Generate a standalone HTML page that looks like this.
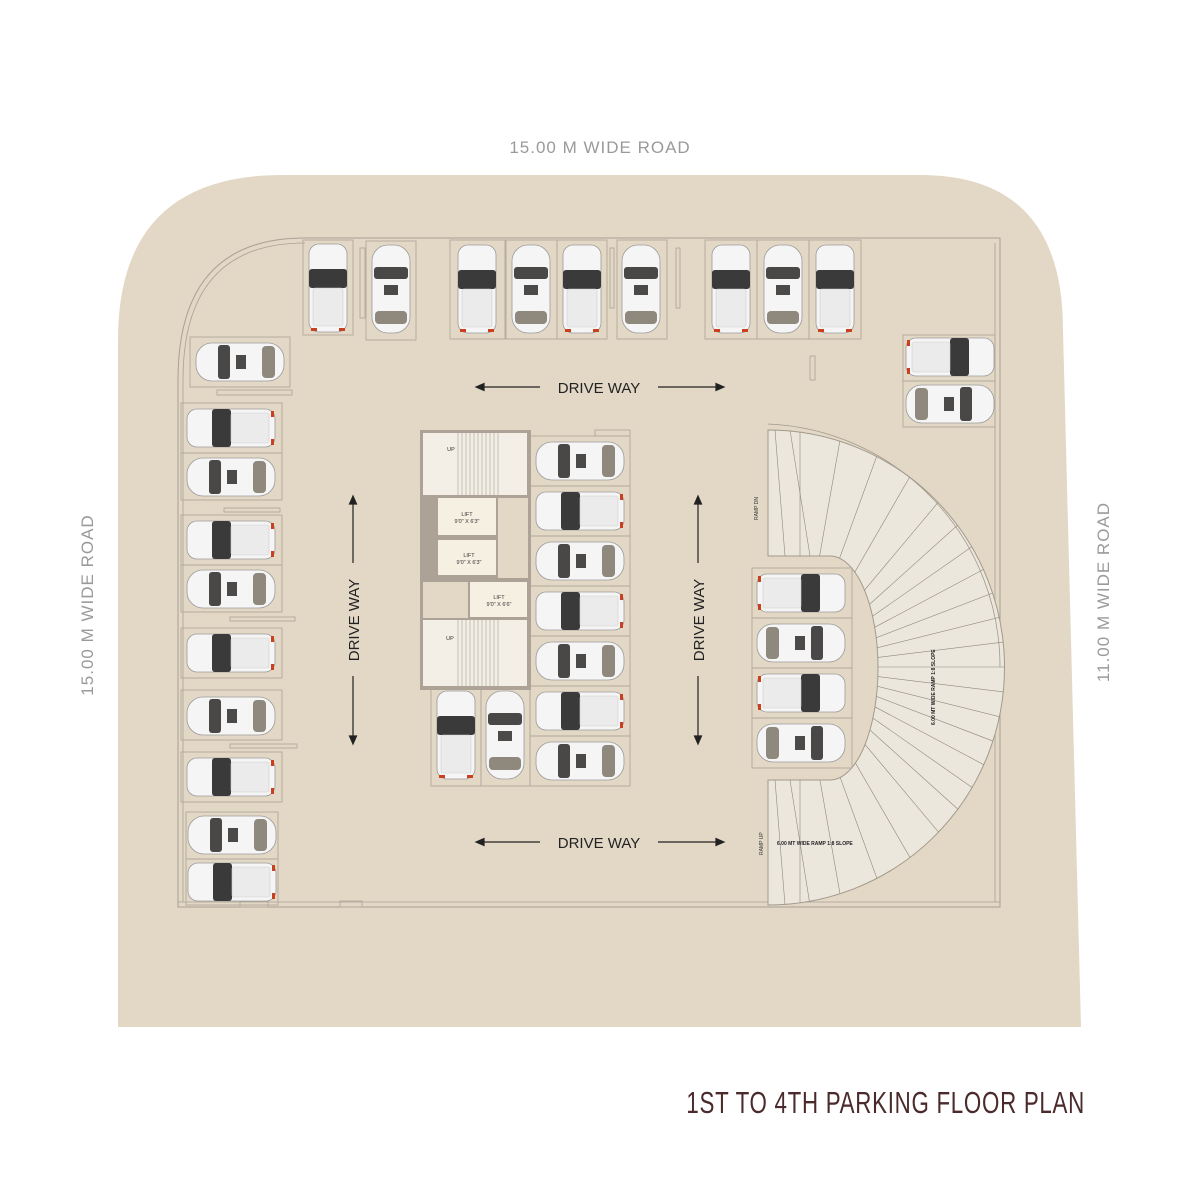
<!DOCTYPE html>
<html><head><meta charset="utf-8"><style>
html,body{margin:0;padding:0;background:#fff;}
svg{display:block}
</style></head><body>
<svg width="1201" height="1201" viewBox="0 0 1201 1201" xmlns="http://www.w3.org/2000/svg" font-family="Liberation Sans, sans-serif">
<defs>
<g id="suv">
<rect x="-44" y="-19" width="88" height="38" rx="10" fill="#f5f5f5" stroke="#9a9a9a" stroke-width="0.8"/>
<rect x="-19" y="-19" width="19" height="38" rx="3" fill="#3b3a3a"/>
<rect x="0" y="-15" width="38" height="30" rx="2" fill="#ebebeb" stroke="#cfcfcf" stroke-width="0.6"/>
<rect x="40" y="-17" width="3" height="6" fill="#c9401f"/>
<rect x="40" y="11" width="3" height="6" fill="#c9401f"/>
</g>
<g id="sed">
<rect x="-44" y="-19" width="88" height="38" rx="16" fill="#f5f5f5" stroke="#9a9a9a" stroke-width="0.8"/>
<rect x="-22" y="-17" width="12" height="34" rx="3" fill="#4a4846"/>
<rect x="-4" y="-7" width="10" height="14" fill="#4b4a48"/>
<rect x="22" y="-16" width="13" height="32" rx="4" fill="#8e887d"/>
</g>
<clipPath id="rampclip"><path d="M768,430 A236,237 0 0 1 768,905 L768,780 L830,780 A48,112 0 0 0 830,556 L768,556 Z"/></clipPath>
</defs>

<!-- site -->
<path d="M118,1027 L118,340 Q118,175 283,175 L920,175 Q1063,175 1063,330 L1081,1027 Z" fill="#e3d8c6"/>
<!-- building outline -->
<path d="M178,907 L178,380 Q178,238 305,238 L1000,238 L1000,907 Z" fill="none" stroke="#a9a195" stroke-width="1"/>
<path d="M183,902 L183,380 Q183,243 305,243" fill="none" stroke="#a9a195" stroke-width="0.8"/>
<line x1="178" y1="902" x2="1000" y2="902" stroke="#a9a195" stroke-width="0.8"/>
<line x1="995" y1="243" x2="995" y2="902" stroke="#a9a195" stroke-width="0.8"/>

<!-- ramp -->
<path d="M768,430 A236,237 0 0 1 768,905 L768,780 L830,780 A48,112 0 0 0 830,556 L768,556 Z" fill="#ebe7dd" stroke="#a39a8c" stroke-width="1"/>
<path d="M768,424 A242,243 0 0 1 1000,667" fill="none" stroke="#a39a8c" stroke-width="0.8"/>
<g clip-path="url(#rampclip)" stroke="#8f887c" stroke-width="0.6">
<path d="M800,420 A200,200 0 0 1 800,914" fill="none" transform="translate(0,0)"/>
<g transform="translate(800,667)">
<line x1="0" y1="0" x2="260" y2="0" transform="rotate(-90)"/>
<line x1="0" y1="0" x2="260" y2="0" transform="rotate(-80)"/>
<line x1="0" y1="0" x2="260" y2="0" transform="rotate(-70)"/>
<line x1="0" y1="0" x2="260" y2="0" transform="rotate(-60)"/>
<line x1="0" y1="0" x2="260" y2="0" transform="rotate(-50)"/>
<line x1="0" y1="0" x2="260" y2="0" transform="rotate(-42)"/>
<line x1="0" y1="0" x2="260" y2="0" transform="rotate(-35)"/>
<line x1="0" y1="0" x2="260" y2="0" transform="rotate(-28)"/>
<line x1="0" y1="0" x2="260" y2="0" transform="rotate(-21)"/>
<line x1="0" y1="0" x2="260" y2="0" transform="rotate(-14)"/>
<line x1="0" y1="0" x2="260" y2="0" transform="rotate(-7)"/>
<line x1="0" y1="0" x2="260" y2="0" transform="rotate(0)"/>
<line x1="0" y1="0" x2="260" y2="0" transform="rotate(7)"/>
<line x1="0" y1="0" x2="260" y2="0" transform="rotate(14)"/>
<line x1="0" y1="0" x2="260" y2="0" transform="rotate(21)"/>
<line x1="0" y1="0" x2="260" y2="0" transform="rotate(28)"/>
<line x1="0" y1="0" x2="260" y2="0" transform="rotate(35)"/>
<line x1="0" y1="0" x2="260" y2="0" transform="rotate(42)"/>
<line x1="0" y1="0" x2="260" y2="0" transform="rotate(50)"/>
<line x1="0" y1="0" x2="260" y2="0" transform="rotate(60)"/>
<line x1="0" y1="0" x2="260" y2="0" transform="rotate(70)"/>
<line x1="0" y1="0" x2="260" y2="0" transform="rotate(80)"/>
<line x1="0" y1="0" x2="260" y2="0" transform="rotate(90)"/>
</g>
<line x1="790" y1="430" x2="810" y2="556"/><line x1="810" y1="905" x2="790" y2="780"/>
<line x1="775" y1="430" x2="785" y2="556"/><line x1="785" y1="905" x2="775" y2="780"/>
</g>
<text x="0" y="0" font-size="5" fill="#333" transform="translate(758,520) rotate(-90)">RAMP DN</text>
<text x="0" y="0" font-size="5" fill="#333" transform="translate(763,855) rotate(-90)">RAMP UP</text>
<text x="0" y="0" font-size="5" font-weight="bold" fill="#222" transform="translate(935,725) rotate(-90)">6.00 MT WIDE RAMP 1:8 SLOPE</text>
<text x="777" y="845" font-size="5" font-weight="bold" fill="#222">6.00 MT WIDE RAMP 1:8 SLOPE</text>

<!-- stalls -->
<g fill="none" stroke="#b2a99b" stroke-width="0.9">
<rect x="303" y="240" width="50" height="95"/><rect x="366" y="241" width="50" height="99"/>
<rect x="450" y="240" width="55" height="99"/><rect x="506" y="240" width="51" height="99"/><rect x="557" y="240" width="50" height="99"/><rect x="617" y="240" width="50" height="99"/>
<rect x="705" y="240" width="52" height="99"/><rect x="757" y="240" width="52" height="99"/><rect x="809" y="240" width="52" height="99"/>
<rect x="190" y="337" width="100" height="50"/>
<rect x="181" y="403" width="101" height="50"/><rect x="181" y="453" width="101" height="47"/>
<rect x="181" y="515" width="101" height="50"/><rect x="181" y="565" width="101" height="47"/>
<rect x="181" y="628" width="101" height="50"/><rect x="181" y="690" width="101" height="50"/><rect x="181" y="752" width="101" height="50"/>
<rect x="186" y="812" width="92" height="47"/><rect x="186" y="859" width="92" height="46"/>
<rect x="903" y="335" width="92" height="46"/><rect x="903" y="381" width="92" height="46"/>
<rect x="530" y="436" width="100" height="50"/><rect x="530" y="486" width="100" height="50"/><rect x="530" y="536" width="100" height="50"/><rect x="530" y="586" width="100" height="50"/><rect x="530" y="636" width="100" height="50"/><rect x="530" y="686" width="100" height="50"/><rect x="530" y="736" width="100" height="50"/>
<rect x="431" y="686" width="50" height="100"/><rect x="481" y="686" width="49" height="100"/>
<rect x="752" y="568" width="100" height="50"/><rect x="752" y="618" width="100" height="50"/><rect x="752" y="668" width="100" height="50"/><rect x="752" y="718" width="100" height="50"/>
<rect x="217" y="390" width="75" height="5"/><rect x="224" y="508" width="56" height="4"/><rect x="230" y="617" width="65" height="4"/><rect x="230" y="744" width="67" height="4"/>
<rect x="360" y="248" width="5" height="70"/><rect x="610" y="248" width="4" height="60"/><rect x="676" y="248" width="4" height="60"/><rect x="810" y="356" width="5" height="24"/>
<rect x="340" y="901" width="22" height="6"/><rect x="240" y="901" width="28" height="6"/>
<rect x="595" y="430" width="35" height="6"/>
</g>

<!-- core -->
<rect x="420" y="430" width="111" height="260" fill="#aca396"/>
<rect x="423" y="433" width="104" height="62" fill="#f3eee6"/>
<rect x="423" y="620" width="104" height="66" fill="#f3eee6"/>
<g stroke="#9a9286" stroke-width="0.5">
<line x1="458" y1="433" x2="458" y2="495"/><line x1="462" y1="433" x2="462" y2="495"/><line x1="466" y1="433" x2="466" y2="495"/><line x1="470" y1="433" x2="470" y2="495"/><line x1="474" y1="433" x2="474" y2="495"/><line x1="478" y1="433" x2="478" y2="495"/><line x1="482" y1="433" x2="482" y2="495"/><line x1="486" y1="433" x2="486" y2="495"/><line x1="490" y1="433" x2="490" y2="495"/><line x1="494" y1="433" x2="494" y2="495"/><line x1="498" y1="433" x2="498" y2="495"/>
<line x1="458" y1="620" x2="458" y2="686"/><line x1="462" y1="620" x2="462" y2="686"/><line x1="466" y1="620" x2="466" y2="686"/><line x1="470" y1="620" x2="470" y2="686"/><line x1="474" y1="620" x2="474" y2="686"/><line x1="478" y1="620" x2="478" y2="686"/><line x1="482" y1="620" x2="482" y2="686"/><line x1="486" y1="620" x2="486" y2="686"/><line x1="490" y1="620" x2="490" y2="686"/><line x1="494" y1="620" x2="494" y2="686"/><line x1="498" y1="620" x2="498" y2="686"/>
</g>
<rect x="438" y="498" width="58" height="37" fill="#f6f0e2"/>
<rect x="438" y="540" width="58" height="35" fill="#f6f0e2"/>
<rect x="498" y="498" width="30" height="80" fill="#e3d8c6"/>
<rect x="423" y="582" width="45" height="36" fill="#e3d8c6"/>
<rect x="470" y="582" width="57" height="35" fill="#f6f0e2"/>
<g font-size="5.5" fill="#333" text-anchor="middle">
<text x="467" y="516">LIFT</text><text x="467" y="523">9'0" X 6'3"</text>
<text x="469" y="557">LIFT</text><text x="469" y="564">9'0" X 6'3"</text>
<text x="499" y="599">LIFT</text><text x="499" y="606">9'0" X 6'6"</text>
<text x="451" y="451">UP</text><text x="450" y="640">UP</text>
</g>

<!-- cars -->
<use href="#suv" transform="translate(328,288) rotate(90)"/>
<use href="#sed" transform="translate(391,289) rotate(90)"/>
<use href="#suv" transform="translate(477,289) rotate(90)"/>
<use href="#sed" transform="translate(531,289) rotate(90)"/>
<use href="#suv" transform="translate(582,289) rotate(90)"/>
<use href="#sed" transform="translate(641,289) rotate(90)"/>
<use href="#suv" transform="translate(731,289) rotate(90)"/>
<use href="#sed" transform="translate(783,289) rotate(90)"/>
<use href="#suv" transform="translate(835,289) rotate(90)"/>
<use href="#sed" transform="translate(240,362)"/>
<use href="#suv" transform="translate(231,428)"/>
<use href="#sed" transform="translate(231,477)"/>
<use href="#suv" transform="translate(231,540)"/>
<use href="#sed" transform="translate(231,589)"/>
<use href="#suv" transform="translate(231,653)"/>
<use href="#sed" transform="translate(231,716)"/>
<use href="#suv" transform="translate(231,777)"/>
<use href="#sed" transform="translate(232,835)"/>
<use href="#suv" transform="translate(232,882)"/>
<use href="#suv" transform="translate(950,357) rotate(180)"/>
<use href="#sed" transform="translate(950,404) rotate(180)"/>
<use href="#sed" transform="translate(580,461)"/>
<use href="#suv" transform="translate(580,511)"/>
<use href="#sed" transform="translate(580,561)"/>
<use href="#suv" transform="translate(580,611)"/>
<use href="#sed" transform="translate(580,661)"/>
<use href="#suv" transform="translate(580,711)"/>
<use href="#sed" transform="translate(580,761)"/>
<use href="#suv" transform="translate(456,735) rotate(90)"/>
<use href="#sed" transform="translate(505,735) rotate(90)"/>
<use href="#suv" transform="translate(801,593) rotate(180)"/>
<use href="#sed" transform="translate(801,643) rotate(180)"/>
<use href="#suv" transform="translate(801,693) rotate(180)"/>
<use href="#sed" transform="translate(801,743) rotate(180)"/>

<!-- drive way arrows -->
<g stroke="#222" stroke-width="1.2" fill="#222">
<line x1="482" y1="387" x2="540" y2="387"/><path d="M476,387 l8,-3.5 v7z"/>
<line x1="658" y1="387" x2="718" y2="387"/><path d="M724,387 l-8,-3.5 v7z"/>
<line x1="482" y1="842" x2="540" y2="842"/><path d="M476,842 l8,-3.5 v7z"/>
<line x1="658" y1="842" x2="718" y2="842"/><path d="M724,842 l-8,-3.5 v7z"/>
<line x1="353" y1="503" x2="353" y2="563"/><path d="M353,496 l-3.5,8 h7z"/>
<line x1="353" y1="676" x2="353" y2="737"/><path d="M353,744 l-3.5,-8 h7z"/>
<line x1="698" y1="503" x2="698" y2="563"/><path d="M698,496 l-3.5,8 h7z"/>
<line x1="698" y1="676" x2="698" y2="737"/><path d="M698,744 l-3.5,-8 h7z"/>
</g>
<g font-size="15" fill="#222" text-anchor="middle">
<text x="599" y="393">DRIVE WAY</text>
<text x="599" y="848">DRIVE WAY</text>
<text transform="translate(359,620) rotate(-90)">DRIVE WAY</text>
<text transform="translate(704,620) rotate(-90)">DRIVE WAY</text>
</g>

<!-- road labels -->
<g font-size="17" fill="#9a9a9a" text-anchor="middle" letter-spacing="1">
<text x="600" y="153">15.00 M WIDE ROAD</text>
<text transform="translate(93,605) rotate(-90)">15.00 M WIDE ROAD</text>
<text transform="translate(1109,592) rotate(-90)">11.00 M WIDE ROAD</text>
</g>
<text transform="translate(1085,1113) scale(0.72,1)" text-anchor="end" font-size="31" fill="#4a2a2b" letter-spacing="1">1ST TO 4TH PARKING FLOOR  PLAN</text>
</svg>
</body></html>
